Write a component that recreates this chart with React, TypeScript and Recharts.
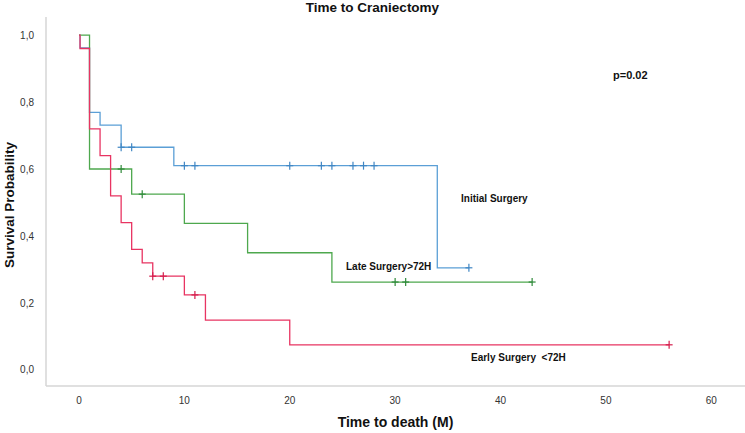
import * as React from 'react';
import { ComposedChart, Line, Scatter, XAxis, YAxis } from 'recharts';

// Kaplan-Meier steps (time in months, survival probability)
const initialSurgery = [
  { t: 0, s: 1 }, { t: 0.1, s: 0.962 }, { t: 1, s: 0.769 }, { t: 2, s: 0.731 },
  { t: 4, s: 0.665 }, { t: 9, s: 0.61 }, { t: 34, s: 0.305 }, { t: 37, s: 0.305 },
];
const lateSurgery = [
  { t: 0, s: 1 }, { t: 1, s: 0.6 }, { t: 5, s: 0.525 }, { t: 10, s: 0.4375 },
  { t: 16, s: 0.35 }, { t: 24, s: 0.2625 }, { t: 43, s: 0.2625 },
];
const earlySurgery = [
  { t: 0, s: 1 }, { t: 0.1, s: 0.96 }, { t: 1, s: 0.72 }, { t: 2, s: 0.64 },
  { t: 3, s: 0.52 }, { t: 4, s: 0.44 }, { t: 5, s: 0.36 }, { t: 6, s: 0.32 },
  { t: 7, s: 0.28 }, { t: 10, s: 0.224 }, { t: 12, s: 0.149 }, { t: 20, s: 0.075 },
  { t: 56, s: 0.075 },
];

// censored observations
const initialCensored = [
  { t: 4, s: 0.665 }, { t: 5, s: 0.665 }, { t: 10, s: 0.61 }, { t: 11, s: 0.61 },
  { t: 20, s: 0.61 }, { t: 23, s: 0.61 }, { t: 24, s: 0.61 }, { t: 26, s: 0.61 },
  { t: 27, s: 0.61 }, { t: 28, s: 0.61 }, { t: 37, s: 0.305 },
];
const lateCensored = [
  { t: 4, s: 0.6 }, { t: 6, s: 0.525 }, { t: 30, s: 0.2625 }, { t: 31, s: 0.2625 },
  { t: 43, s: 0.2625 },
];
const earlyCensored = [
  { t: 7, s: 0.28 }, { t: 8, s: 0.28 }, { t: 11, s: 0.224 }, { t: 56, s: 0.075 },
];

const xTicks = [0, 10, 20, 30, 40, 50, 60];
const yTicks = [0, 0.2, 0.4, 0.6, 0.8, 1];

const BLUE = '#5b9fd6';
const GREEN = '#4ea84e';
const RED = '#e83462';

const FONT = '"Liberation Sans", Arial, sans-serif';

function censorMark(color: string) {
  return (props: any) => {
    const { cx, cy } = props;
    return (
      <g stroke={color} strokeWidth={1.2}>
        <line x1={cx} x2={cx} y1={cy - 4} y2={cy + 4} />
        <line x1={cx - 3.5} x2={cx + 3.5} y1={cy} y2={cy} />
      </g>
    );
  };
}

const txt: React.CSSProperties = {
  position: 'absolute',
  fontFamily: FONT,
  fontWeight: 'bold',
  color: '#111',
  whiteSpace: 'nowrap',
  lineHeight: 1,
};

export default function App() {
  return (
    <div style={{ position: 'absolute', left: 0, top: 0, width: 745, height: 433, background: '#fff' }}>
      <ComposedChart width={745} height={433} margin={{ top: 17, right: 0, bottom: 0, left: 0 }}>
        <XAxis
          type="number"
          dataKey="t"
          domain={[-3.13, 63.2]}
          ticks={xTicks}
          allowDataOverflow
          height={47}
          tickLine={false}
          tickMargin={5}
          axisLine={{ stroke: '#d6d6d6', strokeWidth: 1.5 }}
          tick={{ fill: '#333', fontSize: 10, fontFamily: FONT }}
        />
        <YAxis
          type="number"
          dataKey="s"
          domain={[-0.048, 1.054]}
          ticks={yTicks}
          allowDataOverflow
          width={46}
          tickLine={false}
          tickMargin={6}
          axisLine={{ stroke: '#d6d6d6', strokeWidth: 1.5 }}
          tick={{ fill: '#333', fontSize: 10, fontFamily: FONT }}
          tickFormatter={(v: number) => v.toFixed(1).replace('.', ',')}
        />
        <Line data={initialSurgery} dataKey="s" type="stepAfter" stroke={BLUE} strokeWidth={1.3} dot={false} isAnimationActive={false} />
        <Line data={lateSurgery} dataKey="s" type="stepAfter" stroke={GREEN} strokeWidth={1.3} dot={false} isAnimationActive={false} />
        <Line data={earlySurgery} dataKey="s" type="stepAfter" stroke={RED} strokeWidth={1.3} dot={false} isAnimationActive={false} />
        <Scatter data={initialCensored} dataKey="s" shape={censorMark('#3f86c4')} isAnimationActive={false} />
        <Scatter data={lateCensored} dataKey="s" shape={censorMark('#2f8a3a')} isAnimationActive={false} />
        <Scatter data={earlyCensored} dataKey="s" shape={censorMark('#d41d4c')} isAnimationActive={false} />
      </ComposedChart>

      <div style={{ ...txt, left: 0, width: 745, top: 1, textAlign: 'center', fontSize: 13.5 }}>Time to Craniectomy</div>
      <div style={{ ...txt, left: 23, width: 745, top: 415, textAlign: 'center', fontSize: 14 }}>Time to death (M)</div>
      <div
        style={{
          ...txt,
          left: 10,
          top: 205,
          fontSize: 13.5,
          transform: 'translate(-50%, -50%) rotate(-90deg)',
        }}
      >
        Survival Probability
      </div>
      <div style={{ ...txt, left: 613, top: 70, fontSize: 11 }}>p=0.02</div>
      <div style={{ ...txt, left: 461, top: 194, fontSize: 10 }}>Initial Surgery</div>
      <div style={{ ...txt, left: 346, top: 262, fontSize: 10 }}>Late Surgery&gt;72H</div>
      <div style={{ ...txt, left: 471, top: 353, fontSize: 10, whiteSpace: 'pre' }}>Early Surgery  &lt;72H</div>
    </div>
  );
}
